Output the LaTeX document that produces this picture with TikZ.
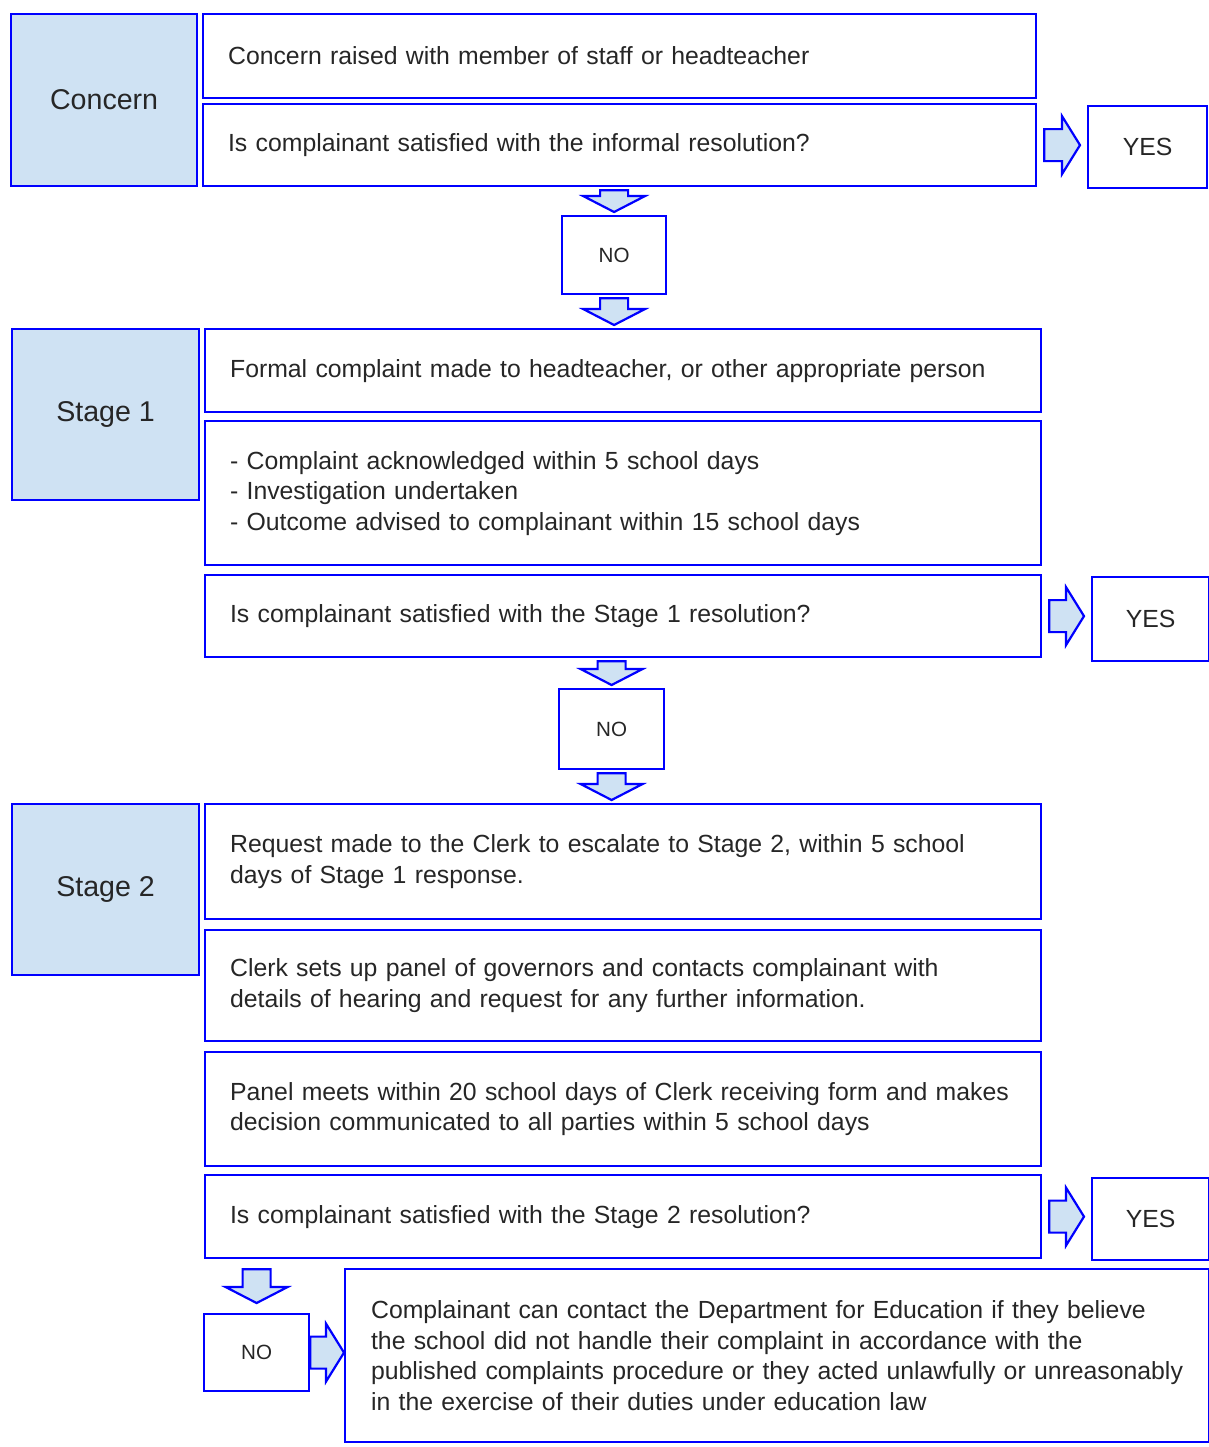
\documentclass[tikz,border=0pt]{standalone}
\usepackage{fontspec}
\setmainfont{Liberation Sans}
\usetikzlibrary{calc}
\definecolor{boxblue}{RGB}{0,0,255}
\definecolor{lblue}{RGB}{207,226,243}
\tikzset{
	box/.style={draw=boxblue, line width=1.1pt, anchor=north west, inner xsep=12.5pt, inner ysep=0pt, align=left, text=black!85, font=\fontsize{12.4}{15.25}\selectfont},
	stagebox/.style={draw=boxblue, fill=lblue, line width=1.1pt, anchor=north west, text=black!85, font=\fontsize{14.3}{17}\selectfont},
	yesbox/.style={draw=boxblue, line width=1.1pt, anchor=north west, text=black!85, font=\fontsize{12.4}{15}\selectfont},
	nobox/.style={yesbox, font=\fontsize{10.3}{12}\selectfont},
	blk/.style={draw=boxblue, fill=lblue, line width=1.1pt, line join=miter}
}
\newcommand{\blkdown}[4][1.5pt]{%
	\draw[blk] let \p1=(#2.south -| #4.center), \p2=(#3.north -| #4.center) in
		(\x1-7pt,\y1-#1) -- (\x1+7pt,\y1-#1) -- (\x1+7pt,\y2+#1+8pt) -- (\x1+15.5pt,\y2+#1+8pt) -- (\x1,\y2+#1)
		-- (\x1-15.5pt,\y2+#1+8pt) -- (\x1-7pt,\y2+#1+8pt) -- cycle;}
\newcommand{\blkright}[3][3.5pt]{%
	\draw[blk] let \p1=(#2.east), \p2=(#3.west) in
		(\x1+#1,\y1+8pt) -- (\x2-#1-9pt,\y1+8pt) -- (\x2-#1-9pt,\y1+14.5pt) -- (\x2-#1,\y1)
		-- (\x2-#1-9pt,\y1-14.5pt) -- (\x2-#1-9pt,\y1-8pt) -- (\x1+#1,\y1-8pt) -- cycle;}
\begin{document}
\begin{tikzpicture}[x=0.5pt, y=-0.5pt]
			\useasboundingbox (0,0) rectangle (1209,1447);
			\node[stagebox, minimum width=93pt, minimum height=86pt] (concern) at (10,13) {Concern};
			\node[box, text width=391.5pt, minimum height=42pt] (c1) at (202,13) {Concern raised with member of staff or headteacher};
			\node[box, text width=391.5pt, minimum height=41pt] (c2) at (202,103) {Is complainant satisfied with the informal resolution?};
			\node[yesbox, minimum width=59.5pt, minimum height=41pt] (yes1) at (1087,105) {YES};
			\node[nobox, minimum width=52pt, minimum height=39pt] (no1) at (561,215) {NO};
			\node[stagebox, minimum width=93.5pt, minimum height=85.5pt] (stage1) at (11,328) {Stage 1};
			\node[box, text width=393pt, minimum height=41.5pt] (s1a) at (204,328) {Formal complaint made to headteacher, or other appropriate person};
			\node[box, text width=393pt, minimum height=72pt] (s1b) at (204,420) {- Complaint acknowledged within 5 school days\\- Investigation undertaken\\- Outcome advised to complainant within 15 school days};
			\node[box, text width=393pt, minimum height=41pt] (s1c) at (204,574) {Is complainant satisfied with the Stage 1 resolution?};
			\node[yesbox, minimum width=58.5pt, minimum height=42pt] (yes2) at (1091,576) {YES};
			\node[nobox, minimum width=52.5pt, minimum height=40pt] (no2) at (558,688) {NO};
			\node[stagebox, minimum width=93.5pt, minimum height=85.5pt] (stage2) at (11,803) {Stage 2};
			\node[box, text width=393pt, minimum height=57.5pt] (s2a) at (204,803) {Request made to the Clerk to escalate to Stage 2, within 5 school\\days of Stage 1 response.};
			\node[box, text width=393pt, minimum height=55.5pt] (s2b) at (204,929) {Clerk sets up panel of governors and contacts complainant with\\details of hearing and request for any further information.};
			\node[box, text width=393pt, minimum height=57pt] (s2c) at (204,1051) {Panel meets within 20 school days of Clerk receiving form and makes\\decision communicated to all parties within 5 school days};
			\node[box, text width=393pt, minimum height=41.5pt] (s2d) at (204,1174) {Is complainant satisfied with the Stage 2 resolution?};
			\node[yesbox, minimum width=58.5pt, minimum height=41pt] (yes3) at (1091,1177) {YES};
			\node[nobox, minimum width=52.5pt, minimum height=38.5pt] (no3) at (203,1313) {NO};
			\node[box, inner xsep=13pt, text width=406pt, minimum height=86.5pt] (final) at (344,1268) {\mbox{Complainant can contact the Department for Education if they believe}\\\mbox{the school did not handle their complaint in accordance with the}\\\mbox{published complaints procedure or they acted unlawfully or unreasonably}\\\mbox{in the exercise of their duties under education law}};
			\blkright{c2}{yes1}
			\blkdown{c2}{no1}{no1}
			\blkdown{no1}{s1a}{no1}
			\blkright{s1c}{yes2}
			\blkdown{s1c}{no2}{no2}
			\blkdown{no2}{s2a}{no2}
			\blkright{s2d}{yes3}
			\blkdown[5pt]{s2d}{no3}{no3}
			\blkright[0pt]{no3}{final}
		\end{tikzpicture}
\end{document}
